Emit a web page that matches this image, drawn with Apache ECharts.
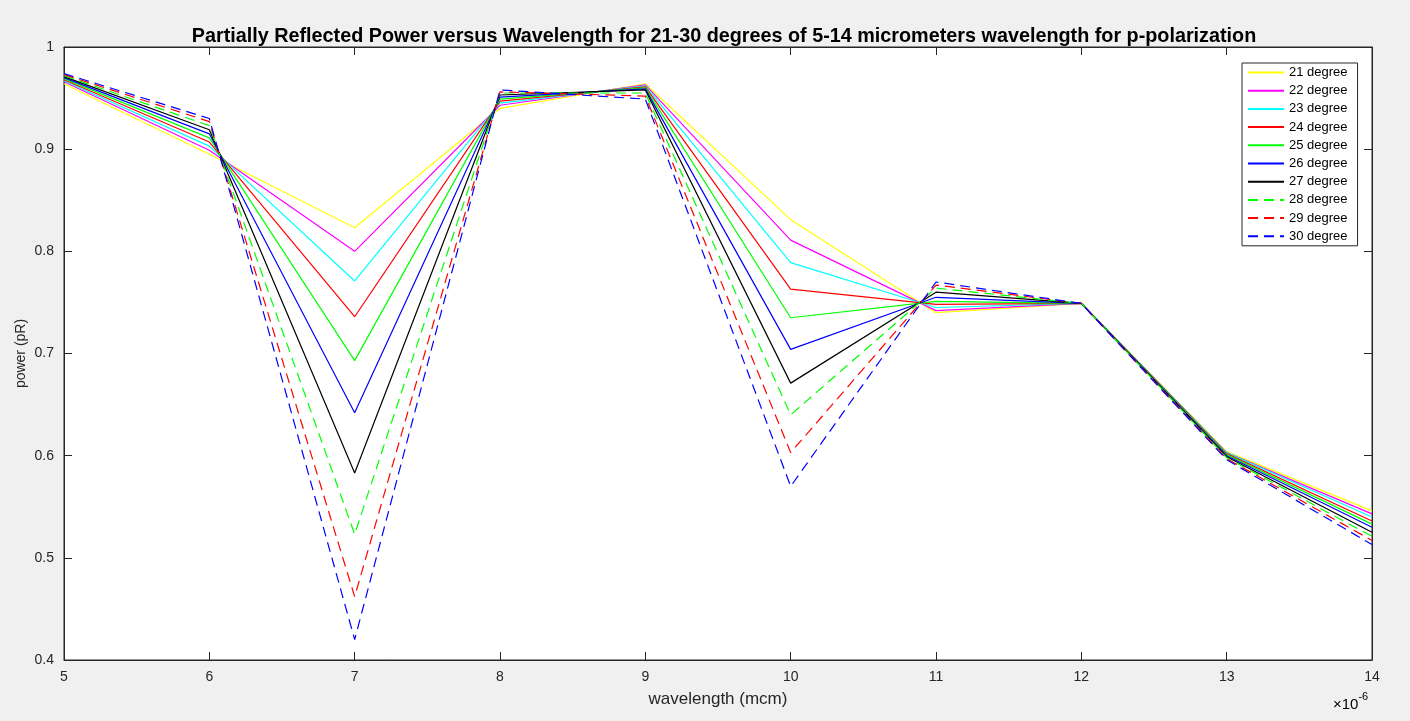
<!DOCTYPE html>
<html>
<head>
<meta charset="utf-8">
<script src="https://cdn.jsdelivr.net/npm/echarts@6/dist/echarts.min.js"></script>
<style>
html,body{margin:0;padding:0;background:#f0f0f0;}
#chart{width:1410px;height:721px;}
</style>
</head>
<body>
<div id="chart"></div>
<script>
const wavelengths = [5, 6, 7, 8, 9, 10, 11, 12, 13, 14];
const seriesNames = ['21 degree','22 degree','23 degree','24 degree','25 degree','26 degree','27 degree','28 degree','29 degree','30 degree'];
const d21 = [0.964, 0.895, 0.823, 0.940, 0.964, 0.831, 0.740, 0.749, 0.604, 0.546];
const d22 = [0.966, 0.899, 0.800, 0.943, 0.963, 0.811, 0.742, 0.749, 0.603, 0.543];
const d23 = [0.967, 0.903, 0.771, 0.945, 0.962, 0.789, 0.745, 0.749, 0.603, 0.540];
const d24 = [0.968, 0.907, 0.736, 0.947, 0.961, 0.763, 0.748, 0.749, 0.602, 0.536];
const d25 = [0.969, 0.911, 0.693, 0.949, 0.960, 0.735, 0.751, 0.749, 0.601, 0.533];
const d26 = [0.970, 0.915, 0.642, 0.951, 0.959, 0.704, 0.755, 0.749, 0.600, 0.530];
const d27 = [0.971, 0.919, 0.583, 0.953, 0.958, 0.671, 0.760, 0.749, 0.599, 0.525];
const d28 = [0.972, 0.923, 0.523, 0.955, 0.955, 0.640, 0.764, 0.749, 0.598, 0.521];
const d29 = [0.973, 0.927, 0.462, 0.956, 0.952, 0.603, 0.767, 0.749, 0.597, 0.517];
const d30 = [0.974, 0.930, 0.420, 0.958, 0.949, 0.570, 0.770, 0.749, 0.596, 0.513];
const allData = [d21, d22, d23, d24, d25, d26, d27, d28, d29, d30];
const colors = ['#ffff00','#ff00ff','#00ffff','#ff0000','#00ff00','#0000ff','#000000','#00ff00','#ff0000','#0000ff'];
const dashed = [false,false,false,false,false,false,false,true,true,true];

const FONT = '"Liberation Sans", Arial, Helvetica, sans-serif';
const AX = '#262626';

const chart = echarts.init(document.getElementById('chart'), null, {renderer: 'canvas'});

const series = allData.map((d, i) => ({
  name: seriesNames[i],
  type: 'line',
  data: d.map((v, j) => [wavelengths[j], v]),
  showSymbol: false,
  symbol: 'none',
  animation: false,
  color: colors[i],
  lineStyle: {color: colors[i], width: 1.2, type: dashed[i] ? [10, 6] : 'solid'},
  emphasis: {disabled: true},
  z: 2 + i
}));

const option = {
  backgroundColor: '#f0f0f0',
  animation: false,
  title: {
    text: 'Partially Reflected Power versus Wavelength for 21-30 degrees of 5-14 micrometers wavelength for p-polarization',
    left: 719, top: 22, textAlign: 'center',
    textStyle: {fontFamily: FONT, fontSize: 19.8, fontWeight: 'bold', color: '#000'}
  },
  grid: {
    left: 64, right: 38, top: 47, bottom: 61,
    show: true, backgroundColor: '#ffffff', borderColor: AX, borderWidth: 1
  },
  legend: {
    orient: 'vertical',
    left: 1242, top: 63,
    width: 116,
    padding: [3, 10, 3, 5],
    itemGap: 5.2,
    itemWidth: 36, itemHeight: 14,
    backgroundColor: '#ffffff',
    borderColor: '#262626', borderWidth: 1,
    itemStyle: {opacity: 0},
    textStyle: {fontFamily: FONT, fontSize: 13, color: '#000'},
    data: seriesNames,
    selectedMode: false
  },
  xAxis: [{
    type: 'value', min: 5, max: 14, interval: 1,
    name: 'wavelength (mcm)', nameLocation: 'middle', nameGap: 31,
    nameTextStyle: {fontFamily: FONT, fontSize: 17, color: AX},
    axisLine: {show: true, lineStyle: {color: AX}},
    axisTick: {show: true, inside: true, length: 8, lineStyle: {color: AX}},
    axisLabel: {fontFamily: FONT, fontSize: 14, color: AX, margin: 10},
    splitLine: {show: false}
  }, {
    type: 'value', min: 5, max: 14, interval: 1, position: 'top',
    axisLine: {show: true, lineStyle: {color: AX}},
    axisTick: {show: true, inside: true, length: 8, lineStyle: {color: AX}},
    axisLabel: {show: false}, splitLine: {show: false}
  }],
  yAxis: [{
    type: 'value', min: 0.4, max: 1, interval: 0.1,
    name: 'power (pR)', nameLocation: 'middle', nameGap: 36, nameMoveOverlap: false,
    nameTextStyle: {fontFamily: FONT, fontSize: 14, color: AX},
    axisLine: {show: true, lineStyle: {color: AX}},
    axisTick: {show: true, inside: true, length: 8, lineStyle: {color: AX}},
    axisLabel: {fontFamily: FONT, fontSize: 14, color: AX, margin: 10,
      formatter: v => String(Math.round(v * 10) / 10)},
    splitLine: {show: false}
  }, {
    type: 'value', min: 0.4, max: 1, interval: 0.1, position: 'right',
    axisLine: {show: true, lineStyle: {color: AX}},
    axisTick: {show: true, inside: true, length: 8, lineStyle: {color: AX}},
    axisLabel: {show: false}, splitLine: {show: false}
  }],
  graphic: [{
    type: 'text', left: 1333, top: 691,
    style: {
      text: '{a|×10}{b|-6}',
      rich: {
        a: {fontFamily: FONT, fontSize: 15, color: AX, padding: [6, 0, 0, 0]},
        b: {fontFamily: FONT, fontSize: 11, color: AX, verticalAlign: 'top'}
      }
    }
  }],
  series: series
};
chart.setOption(option);
</script>
</body>
</html>
